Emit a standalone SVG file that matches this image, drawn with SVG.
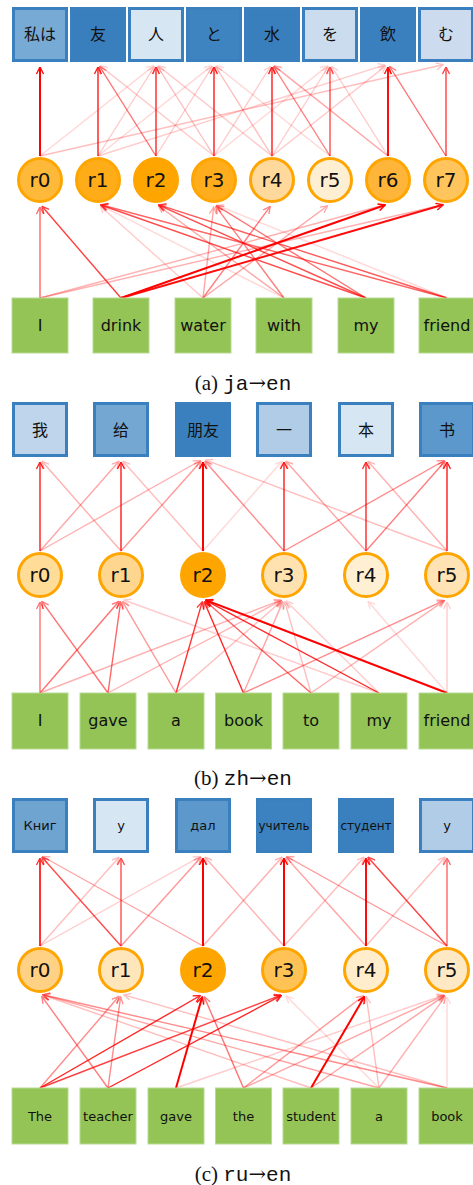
<svg xmlns="http://www.w3.org/2000/svg" width="473" height="1185" viewBox="0 0 473 1185">
<defs>
  <marker id="ah" viewBox="0 0 8 8" refX="7.5" refY="4" markerWidth="8" markerHeight="8" markerUnits="userSpaceOnUse" orient="auto">
    <path d="M0.5,0.5 L7.5,4 L0.5,7.5" fill="none" stroke="#ff0000" stroke-width="1.3"/>
  </marker>
  <style>
    .e { stroke:#ff0000; stroke-width:1.4; fill:none; marker-end:url(#ah); }
    .s { stroke-width:2; }
    .tb { stroke:#3a80be; stroke-width:3; }
    .wb { fill:#93c455; stroke:#b8d993; stroke-width:1; }
    .rc { stroke:#ffa500; stroke-width:3; }
    .cjk { font-family:"Noto Sans CJK JP","Noto Sans CJK SC",sans-serif; font-size:16px; fill:#111; text-anchor:middle; }
    .cjks { font-family:"Noto Sans CJK SC",sans-serif; font-size:16px; fill:#111; text-anchor:middle; }
    .lbl { font-family:"DejaVu Sans",sans-serif; font-size:20px; fill:#111; text-anchor:middle; }
    .w { font-family:"DejaVu Sans",sans-serif; font-size:16px; fill:#111; text-anchor:middle; }
    .ws { font-family:"DejaVu Sans",sans-serif; font-size:13px; fill:#111; text-anchor:middle; }
    .wt { font-family:"DejaVu Sans",sans-serif; font-size:12px; fill:#111; text-anchor:middle; }
    .cap { font-family:"Liberation Serif",serif; font-size:21px; fill:#111; text-anchor:middle; }
    .mono { font-family:"Liberation Mono",monospace; }
    .arr { font-family:"DejaVu Serif",serif; }
  </style>
</defs>
<rect width="473" height="1185" fill="#ffffff"/>

<!-- ===== (a) ja-en ===== -->
<g id="connectors-a">
  <!-- readers to target tokens -->
  <line class="e s" x1="40" y1="156" x2="40" y2="67" opacity="1"/>
  <line class="e" x1="98" y1="156" x2="98" y2="67" opacity="0.9"/>
  <line class="e" x1="156" y1="156" x2="156" y2="67" opacity="0.85"/>
  <line class="e" x1="214" y1="156" x2="214" y2="67" opacity="0.9"/>
  <line class="e" x1="272" y1="156" x2="272" y2="67" opacity="0.9"/>
  <line class="e" x1="330" y1="156" x2="330" y2="67" opacity="0.7"/>
  <line class="e s" x1="388" y1="156" x2="388" y2="67" opacity="0.95"/>
  <line class="e" x1="446" y1="156" x2="446" y2="67" opacity="0.75"/>
  <line class="e" x1="156" y1="156" x2="99.6" y2="66.5" opacity="0.55"/>
  <line class="e" x1="214" y1="156" x2="100.3" y2="65.9" opacity="0.2"/>
  <line class="e" x1="40" y1="156" x2="443.1" y2="64.7" opacity="0.25"/>
  <line class="e" x1="40" y1="156" x2="153.7" y2="65.9" opacity="0.15"/>
  <line class="e" x1="98" y1="156" x2="154.4" y2="66.5" opacity="0.2"/>
  <line class="e" x1="98" y1="156" x2="211.7" y2="65.9" opacity="0.15"/>
  <line class="e" x1="272" y1="156" x2="158.3" y2="65.9" opacity="0.2"/>
  <line class="e" x1="272" y1="156" x2="215.6" y2="66.5" opacity="0.25"/>
  <line class="e" x1="330" y1="156" x2="273.6" y2="66.5" opacity="0.5"/>
  <line class="e" x1="388" y1="156" x2="274.3" y2="65.9" opacity="0.35"/>
  <line class="e" x1="330" y1="156" x2="216.3" y2="65.9" opacity="0.15"/>
  <line class="e" x1="446" y1="156" x2="389.6" y2="66.5" opacity="0.55"/>
  <line class="e" x1="388" y1="156" x2="331.6" y2="66.5" opacity="0.2"/>
  <line class="e" x1="214" y1="156" x2="327.7" y2="65.9" opacity="0.15"/>
  <line class="e" x1="98" y1="156" x2="385.1" y2="64.9" opacity="0.2"/>
  <line class="e" x1="156" y1="156" x2="212.4" y2="66.5" opacity="0.2"/>
  <line class="e" x1="214" y1="156" x2="157.6" y2="66.5" opacity="0.25"/>
  <line class="e" x1="214" y1="156" x2="270.4" y2="66.5" opacity="0.2"/>
  <line class="e" x1="272" y1="156" x2="385.7" y2="65.9" opacity="0.2"/>
  <line class="e" x1="272" y1="156" x2="328.4" y2="66.5" opacity="0.2"/>
  <!-- source words to readers -->
  <line class="e" x1="40" y1="298" x2="40" y2="207" opacity="0.6"/>
  <line class="e" x1="121" y1="298" x2="42" y2="206.3" opacity="0.75"/>
  <line class="e" x1="40" y1="298" x2="385.1" y2="204.8" opacity="0.3"/>
  <line class="e" x1="40" y1="298" x2="443.1" y2="204.7" opacity="0.3"/>
  <line class="e s" x1="121" y1="298" x2="385.2" y2="205" opacity="1"/>
  <line class="e s" x1="121" y1="298" x2="443.1" y2="204.8" opacity="0.95"/>
  <line class="e" x1="203" y1="298" x2="213.7" y2="207" opacity="0.35"/>
  <line class="e" x1="203" y1="298" x2="270.2" y2="206.4" opacity="0.5"/>
  <line class="e" x1="203" y1="298" x2="327.6" y2="205.8" opacity="0.35"/>
  <line class="e" x1="203" y1="298" x2="100.2" y2="206" opacity="0.2"/>
  <line class="e" x1="284" y1="298" x2="100.7" y2="205.4" opacity="0.15"/>
  <line class="e" x1="284" y1="298" x2="158.4" y2="205.8" opacity="0.35"/>
  <line class="e" x1="284" y1="298" x2="215.8" y2="206.4" opacity="0.5"/>
  <line class="e" x1="366" y1="298" x2="100.8" y2="205" opacity="0.7"/>
  <line class="e" x1="366" y1="298" x2="158.7" y2="205.2" opacity="0.7"/>
  <line class="e" x1="366" y1="298" x2="216.6" y2="205.6" opacity="0.55"/>
  <line class="e" x1="447" y1="298" x2="100.9" y2="204.8" opacity="0.6"/>
  <line class="e" x1="447" y1="298" x2="158.9" y2="204.9" opacity="0.65"/>
  <line class="e" x1="447" y1="298" x2="216.8" y2="205.1" opacity="0.15"/>
</g>

<g id="a-tgt-0"><rect class="tb" x="13.5" y="8.5" width="53" height="52" fill="#77aad4"/><text class="cjk" x="40" y="40">私は</text></g>
<g id="a-tgt-1"><rect class="tb" x="71.5" y="8.5" width="53" height="52" fill="#3a7fbd"/><text class="cjk" x="98" y="40">友</text></g>
<g id="a-tgt-2"><rect class="tb" x="129.5" y="8.5" width="53" height="52" fill="#d6e6f3"/><text class="cjk" x="156" y="40">人</text></g>
<g id="a-tgt-3"><rect class="tb" x="187.5" y="8.5" width="53" height="52" fill="#3e84c1"/><text class="cjk" x="214" y="40">と</text></g>
<g id="a-tgt-4"><rect class="tb" x="245.5" y="8.5" width="53" height="52" fill="#3a7fbd"/><text class="cjk" x="272" y="40">水</text></g>
<g id="a-tgt-5"><rect class="tb" x="303.5" y="8.5" width="53" height="52" fill="#cbdcee"/><text class="cjk" x="330" y="40">を</text></g>
<g id="a-tgt-6"><rect class="tb" x="361.5" y="8.5" width="53" height="52" fill="#3b80be"/><text class="cjk" x="388" y="40">飲</text></g>
<g id="a-tgt-7"><rect class="tb" x="419.5" y="8.5" width="53" height="52" fill="#ccdcee"/><text class="cjk" x="446" y="40">む</text></g>

<g id="a-r0"><circle class="rc" cx="40" cy="180" r="21.5" fill="#ffb93a"/><text class="lbl" x="40" y="187">r0</text></g>
<g id="a-r1"><circle class="rc" cx="98" cy="180" r="21.5" fill="#ffac19"/><text class="lbl" x="98" y="187">r1</text></g>
<g id="a-r2"><circle class="rc" cx="156" cy="180" r="21.5" fill="#ffa500"/><text class="lbl" x="156" y="187">r2</text></g>
<g id="a-r3"><circle class="rc" cx="214" cy="180" r="21.5" fill="#ffad1c"/><text class="lbl" x="214" y="187">r3</text></g>
<g id="a-r4"><circle class="rc" cx="272" cy="180" r="21.5" fill="#ffd99b"/><text class="lbl" x="272" y="187">r4</text></g>
<g id="a-r5"><circle class="rc" cx="330" cy="180" r="21.5" fill="#ffefd2"/><text class="lbl" x="330" y="187">r5</text></g>
<g id="a-r6"><circle class="rc" cx="388" cy="180" r="21.5" fill="#ffb43a"/><text class="lbl" x="388" y="187">r6</text></g>
<g id="a-r7"><circle class="rc" cx="446" cy="180" r="21.5" fill="#ffc45c"/><text class="lbl" x="446" y="187">r7</text></g>

<g id="a-src-0"><rect class="wb" x="12" y="298" width="56" height="55"/><text class="w" x="40" y="331">I</text></g>
<g id="a-src-1"><rect class="wb" x="93" y="298" width="56" height="55"/><text class="w" x="121" y="331">drink</text></g>
<g id="a-src-2"><rect class="wb" x="175" y="298" width="56" height="55"/><text class="w" x="203" y="331">water</text></g>
<g id="a-src-3"><rect class="wb" x="256" y="298" width="56" height="55"/><text class="w" x="284" y="331">with</text></g>
<g id="a-src-4"><rect class="wb" x="338" y="298" width="56" height="55"/><text class="w" x="366" y="331">my</text></g>
<g id="a-src-5"><rect class="wb" x="419" y="298" width="56" height="55"/><text class="w" x="447" y="331">friend</text></g>

<text class="cap" x="243" y="390">(a) <tspan class="mono">ja</tspan><tspan class="arr">→</tspan><tspan class="mono">en</tspan></text>

<!-- ===== (b) zh-en ===== -->
<g id="connectors-b">
  <line class="e" x1="40" y1="551" x2="40" y2="462" opacity="0.9"/>
  <line class="e" x1="40" y1="551" x2="119" y2="461.3" opacity="0.35"/>
  <line class="e" x1="40" y1="551" x2="200.4" y2="460.5" opacity="0.3"/>
  <line class="e" x1="121" y1="551" x2="121" y2="462" opacity="0.9"/>
  <line class="e" x1="121" y1="551" x2="42" y2="461.3" opacity="0.3"/>
  <line class="e" x1="121" y1="551" x2="201" y2="461.3" opacity="0.4"/>
  <line class="e s" x1="203" y1="551" x2="203" y2="462" opacity="1"/>
  <line class="e" x1="203" y1="551" x2="123" y2="461.3" opacity="0.25"/>
  <line class="e" x1="203" y1="551" x2="282" y2="461.3" opacity="0.15"/>
  <line class="e" x1="284" y1="551" x2="284" y2="462" opacity="0.9"/>
  <line class="e" x1="284" y1="551" x2="205" y2="461.3" opacity="0.45"/>
  <line class="e" x1="284" y1="551" x2="444.4" y2="460.5" opacity="0.45"/>
  <line class="e" x1="366" y1="551" x2="366" y2="462" opacity="0.85"/>
  <line class="e" x1="366" y1="551" x2="286" y2="461.3" opacity="0.35"/>
  <line class="e" x1="366" y1="551" x2="445" y2="461.3" opacity="0.5"/>
  <line class="e" x1="447" y1="551" x2="447" y2="462" opacity="0.9"/>
  <line class="e" x1="447" y1="551" x2="368" y2="461.3" opacity="0.3"/>
  <line class="e" x1="447" y1="551" x2="205.8" y2="460.1" opacity="0.25"/>

  <line class="e" x1="40" y1="693" x2="40" y2="602" opacity="0.55"/>
  <line class="e" x1="40" y1="693" x2="119" y2="601.3" opacity="0.55"/>
  <line class="e" x1="40" y1="693" x2="281.2" y2="600.1" opacity="0.3"/>
  <line class="e" x1="108" y1="693" x2="41.8" y2="601.4" opacity="0.55"/>
  <line class="e" x1="108" y1="693" x2="120.6" y2="602" opacity="0.6"/>
  <line class="e" x1="108" y1="693" x2="281.4" y2="600.4" opacity="0.3"/>
  <line class="e" x1="176" y1="693" x2="122.5" y2="601.6" opacity="0.4"/>
  <line class="e" x1="176" y1="693" x2="202.2" y2="601.9" opacity="0.8"/>
  <line class="e" x1="176" y1="693" x2="281.7" y2="601" opacity="0.25"/>
  <line class="e" x1="243.5" y1="693" x2="204.2" y2="601.8" opacity="0.85"/>
  <line class="e" x1="243.5" y1="693" x2="282.8" y2="601.8" opacity="0.35"/>
  <line class="e" x1="243.5" y1="693" x2="444.3" y2="600.3" opacity="0.45"/>
  <line class="e" x1="311" y1="693" x2="205.3" y2="601" opacity="0.6"/>
  <line class="e" x1="311" y1="693" x2="284.8" y2="601.9" opacity="0.25"/>
  <line class="e" x1="311" y1="693" x2="444.5" y2="600.7" opacity="0.3"/>
  <line class="e" x1="379" y1="693" x2="205.6" y2="600.4" opacity="0.85"/>
  <line class="e" x1="379" y1="693" x2="123.8" y2="600" opacity="0.2"/>
  <line class="e" x1="379" y1="693" x2="286.1" y2="601.1" opacity="0.2"/>
  <line class="e s" x1="447" y1="693" x2="205.8" y2="600.1" opacity="1"/>
  <line class="e" x1="447" y1="693" x2="368" y2="601.3" opacity="0.15"/>
  <line class="e" x1="447" y1="693" x2="447" y2="602" opacity="0.2"/>
</g>

<g id="b-tgt-0"><rect class="tb" x="13.5" y="403.5" width="53" height="52" fill="#bed5eb"/><text class="cjks" x="40" y="436">我</text></g>
<g id="b-tgt-1"><rect class="tb" x="94.5" y="403.5" width="53" height="52" fill="#74a8d3"/><text class="cjks" x="121" y="436">给</text></g>
<g id="b-tgt-2"><rect class="tb" x="176.5" y="403.5" width="53" height="52" fill="#3a80be"/><text class="cjks" x="203" y="436">朋友</text></g>
<g id="b-tgt-3"><rect class="tb" x="257.5" y="403.5" width="53" height="52" fill="#b0cce6"/><text class="cjks" x="284" y="436">一</text></g>
<g id="b-tgt-4"><rect class="tb" x="339.5" y="403.5" width="53" height="52" fill="#d6e6f3"/><text class="cjks" x="366" y="436">本</text></g>
<g id="b-tgt-5"><rect class="tb" x="420.5" y="403.5" width="53" height="52" fill="#5c98cc"/><text class="cjks" x="447" y="436">书</text></g>

<g id="b-r0"><circle class="rc" cx="40" cy="575" r="21.5" fill="#ffdc98"/><text class="lbl" x="40" y="582">r0</text></g>
<g id="b-r1"><circle class="rc" cx="121" cy="575" r="21.5" fill="#ffd690"/><text class="lbl" x="121" y="582">r1</text></g>
<g id="b-r2"><circle class="rc" cx="203" cy="575" r="21.5" fill="#ffa500"/><text class="lbl" x="203" y="582">r2</text></g>
<g id="b-r3"><circle class="rc" cx="284" cy="575" r="21.5" fill="#ffe2b0"/><text class="lbl" x="284" y="582">r3</text></g>
<g id="b-r4"><circle class="rc" cx="366" cy="575" r="21.5" fill="#ffefd3"/><text class="lbl" x="366" y="582">r4</text></g>
<g id="b-r5"><circle class="rc" cx="447" cy="575" r="21.5" fill="#ffe3b5"/><text class="lbl" x="447" y="582">r5</text></g>

<g id="b-src-0"><rect class="wb" x="12" y="693" width="56" height="56"/><text class="w" x="40" y="726">I</text></g>
<g id="b-src-1"><rect class="wb" x="80" y="693" width="56" height="56"/><text class="w" x="108" y="726">gave</text></g>
<g id="b-src-2"><rect class="wb" x="148" y="693" width="56" height="56"/><text class="w" x="176" y="726">a</text></g>
<g id="b-src-3"><rect class="wb" x="215.5" y="693" width="56" height="56"/><text class="w" x="243.5" y="726">book</text></g>
<g id="b-src-4"><rect class="wb" x="283" y="693" width="56" height="56"/><text class="w" x="311" y="726">to</text></g>
<g id="b-src-5"><rect class="wb" x="351" y="693" width="56" height="56"/><text class="w" x="379" y="726">my</text></g>
<g id="b-src-6"><rect class="wb" x="419" y="693" width="56" height="56"/><text class="w" x="447" y="726">friend</text></g>

<text class="cap" x="243" y="784.5">(b) <tspan class="mono">zh</tspan><tspan class="arr">→</tspan><tspan class="mono">en</tspan></text>

<!-- ===== (c) ru-en ===== -->
<g id="connectors-c">
  <line class="e s" x1="40" y1="946" x2="40" y2="858" opacity="0.8"/>
  <line class="e" x1="40" y1="946" x2="119" y2="857.2" opacity="0.25"/>
  <line class="e" x1="40" y1="946" x2="200.4" y2="856.5" opacity="0.2"/>
  <line class="e" x1="121" y1="946" x2="121" y2="858" opacity="0.7"/>
  <line class="e" x1="121" y1="946" x2="42" y2="857.2" opacity="0.7"/>
  <line class="e" x1="121" y1="946" x2="201" y2="857.2" opacity="0.4"/>
  <line class="e s" x1="203" y1="946" x2="203" y2="858" opacity="1"/>
  <line class="e" x1="203" y1="946" x2="42.6" y2="856.5" opacity="0.35"/>
  <line class="e" x1="203" y1="946" x2="282" y2="857.2" opacity="0.3"/>
  <line class="e s" x1="284" y1="946" x2="284" y2="858" opacity="1" stroke-width="2.4"/>
  <line class="e" x1="284" y1="946" x2="205" y2="857.2" opacity="0.3"/>
  <line class="e" x1="284" y1="946" x2="364" y2="857.2" opacity="0.25"/>
  <line class="e s" x1="366" y1="946" x2="366" y2="858" opacity="0.95"/>
  <line class="e" x1="366" y1="946" x2="286" y2="857.2" opacity="0.35"/>
  <line class="e" x1="366" y1="946" x2="445" y2="857.2" opacity="0.25"/>
  <line class="e" x1="447" y1="946" x2="447" y2="858" opacity="0.6"/>
  <line class="e" x1="447" y1="946" x2="368" y2="857.2" opacity="0.75"/>
  <line class="e" x1="447" y1="946" x2="286.6" y2="856.5" opacity="0.4"/>

  <line class="e" x1="40" y1="1088" x2="119" y2="996.3" opacity="0.45"/>
  <line class="e" x1="40" y1="1088" x2="200.4" y2="995.5" opacity="0.85"/>
  <line class="e" x1="40" y1="1088" x2="281.2" y2="995.1" opacity="0.75"/>
  <line class="e" x1="108" y1="1088" x2="41.8" y2="996.4" opacity="0.5"/>
  <line class="e" x1="108" y1="1088" x2="120.6" y2="997" opacity="0.45"/>
  <line class="e" x1="108" y1="1088" x2="281.4" y2="995.4" opacity="0.85"/>
  <line class="e s" x1="176" y1="1088" x2="202.2" y2="996.9" opacity="1"/>
  <line class="e" x1="176" y1="1088" x2="444.2" y2="995" opacity="0.2"/>
  <line class="e" x1="243.5" y1="1088" x2="204.2" y2="996.8" opacity="0.55"/>
  <line class="e" x1="243.5" y1="1088" x2="363.6" y2="995.8" opacity="0.4"/>
  <line class="e" x1="243.5" y1="1088" x2="444.3" y2="995.3" opacity="0.35"/>
  <line class="e s" x1="311" y1="1088" x2="364.5" y2="996.6" opacity="1"/>
  <line class="e" x1="311" y1="1088" x2="444.5" y2="995.7" opacity="0.35"/>
  <line class="e" x1="311" y1="1088" x2="42.8" y2="995" opacity="0.25"/>
  <line class="e" x1="379" y1="1088" x2="42.9" y2="994.8" opacity="0.35"/>
  <line class="e" x1="379" y1="1088" x2="366.4" y2="997" opacity="0.25"/>
  <line class="e" x1="379" y1="1088" x2="445.2" y2="996.4" opacity="0.3"/>
  <line class="e" x1="379" y1="1088" x2="286.1" y2="996.1" opacity="0.15"/>
  <line class="e" x1="447" y1="1088" x2="42.9" y2="994.7" opacity="0.45"/>
  <line class="e" x1="447" y1="1088" x2="123.9" y2="994.8" opacity="0.25"/>
  <line class="e" x1="447" y1="1088" x2="447" y2="997" opacity="0.15"/>
</g>

<g id="c-tgt-0"><rect class="tb" x="13.5" y="799.5" width="53" height="52" fill="#6fa4d1"/><text class="ws" x="40" y="830">Книг</text></g>
<g id="c-tgt-1"><rect class="tb" x="94.5" y="799.5" width="53" height="52" fill="#d6e6f3"/><text class="ws" x="121" y="830">у</text></g>
<g id="c-tgt-2"><rect class="tb" x="176.5" y="799.5" width="53" height="52" fill="#5c98cc"/><text class="ws" x="203" y="830">дал</text></g>
<g id="c-tgt-3"><rect class="tb" x="257.5" y="799.5" width="53" height="52" fill="#3c82c0"/><text class="wt" x="284" y="830">учитель</text></g>
<g id="c-tgt-4"><rect class="tb" x="339.5" y="799.5" width="53" height="52" fill="#3a80be"/><text class="wt" x="366" y="830">студент</text></g>
<g id="c-tgt-5"><rect class="tb" x="420.5" y="799.5" width="53" height="52" fill="#b0cce6"/><text class="ws" x="447" y="830">у</text></g>

<g id="c-r0"><circle class="rc" cx="40" cy="970" r="21.5" fill="#ffd185"/><text class="lbl" x="40" y="977">r0</text></g>
<g id="c-r1"><circle class="rc" cx="121" cy="970" r="21.5" fill="#ffe5ba"/><text class="lbl" x="121" y="977">r1</text></g>
<g id="c-r2"><circle class="rc" cx="203" cy="970" r="21.5" fill="#ffa500"/><text class="lbl" x="203" y="977">r2</text></g>
<g id="c-r3"><circle class="rc" cx="284" cy="970" r="21.5" fill="#ffc355"/><text class="lbl" x="284" y="977">r3</text></g>
<g id="c-r4"><circle class="rc" cx="366" cy="970" r="21.5" fill="#ffedcc"/><text class="lbl" x="366" y="977">r4</text></g>
<g id="c-r5"><circle class="rc" cx="447" cy="970" r="21.5" fill="#ffe9c4"/><text class="lbl" x="447" y="977">r5</text></g>

<g id="c-src-0"><rect class="wb" x="12" y="1088" width="56" height="56"/><text class="ws" x="40" y="1121">The</text></g>
<g id="c-src-1"><rect class="wb" x="80" y="1088" width="56" height="56"/><text class="ws" x="108" y="1121">teacher</text></g>
<g id="c-src-2"><rect class="wb" x="148" y="1088" width="56" height="56"/><text class="ws" x="176" y="1121">gave</text></g>
<g id="c-src-3"><rect class="wb" x="215.5" y="1088" width="56" height="56"/><text class="ws" x="243.5" y="1121">the</text></g>
<g id="c-src-4"><rect class="wb" x="283" y="1088" width="56" height="56"/><text class="ws" x="311" y="1121">student</text></g>
<g id="c-src-5"><rect class="wb" x="351" y="1088" width="56" height="56"/><text class="ws" x="379" y="1121">a</text></g>
<g id="c-src-6"><rect class="wb" x="419" y="1088" width="56" height="56"/><text class="ws" x="447" y="1121">book</text></g>

<text class="cap" x="243" y="1181">(c) <tspan class="mono">ru</tspan><tspan class="arr">→</tspan><tspan class="mono">en</tspan></text>
</svg>
